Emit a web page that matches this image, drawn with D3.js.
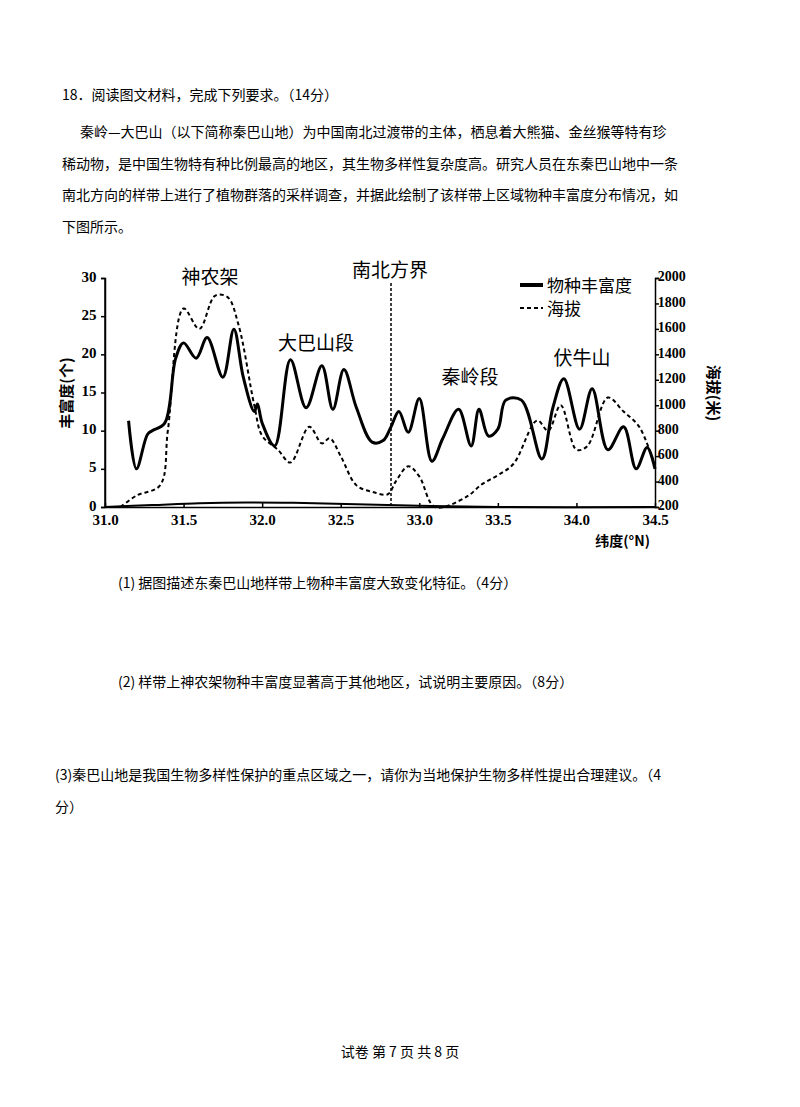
<!DOCTYPE html><html><head><meta charset="utf-8"><script src="https://cdn.jsdelivr.net/npm/d3@7"></script>
<style>body{margin:0;background:#fff;font-family:"Noto Sans CJK SC","Noto Sans",sans-serif;}</style></head><body><svg id="c" width="800" height="1107"></svg>
<script>
const richLat=[31.15,31.2,31.27,31.3,31.38,31.45,31.5,31.58,31.65,31.75,31.82,31.88,31.95,31.97,32.0,32.08,32.18,32.28,32.38,32.45,32.52,32.6,32.7,32.77,32.82,32.87,32.93,33.0,33.08,33.15,33.25,33.33,33.38,33.44,33.5,33.55,33.65,33.78,33.85,33.92,34.02,34.1,34.2,34.3,34.38,34.45,34.5];
const richVal=[11.3,5,9.5,10,11,19.5,21.5,19.5,22.2,17,23.3,17,12.5,13.5,11,8,19.3,13,18.5,12.8,18,13,8.5,8.7,10.5,12.5,9.8,14.2,6,9,12.8,8,12.8,9.3,10.2,14,14,6.3,13,16.8,10.2,15.5,7.5,10.5,5,7.8,5];
const elevLat=[31.1,31.2,31.35,31.4,31.5,31.6,31.7,31.78,31.85,31.95,32.0,32.1,32.18,32.3,32.38,32.43,32.5,32.6,32.7,32.8,32.85,32.93,33.0,33.1,33.3,33.4,33.5,33.6,33.75,33.82,33.9,34.0,34.07,34.2,34.3,34.4,34.5];
const elevVal=[200,290,370,800,1760,1600,1860,1850,1630,1000,760,650,550,830,700,740,600,370,320,300,400,520,440,200,280,380,450,540,880,800,1000,650,680,1060,950,830,520];
const baseLat=[31.0,31.3,31.6,31.9,32.2,32.6,33.0,33.5,34.5];
const baseVal=[0,0.25,0.5,0.6,0.55,0.35,0.15,0,0];
const xTicks=[31.0,31.5,32.0,32.5,33.0,33.5,34.0,34.5];
const yTicks=[0,5,10,15,20,25,30];
const y2Ticks=[200,400,600,800,1000,1200,1400,1600,1800,2000];

const svg=d3.select("#c");
const T=(x,y,s,size,opt={})=>svg.append("text").attr("x",x).attr("y",y).attr("font-size",size).attr("font-family",opt.f||'"Noto Sans CJK SC"').attr("font-weight",opt.w||"normal").attr("text-anchor",opt.a||"start").text(s);
T(62,100,"18．阅读图文材料，完成下列要求。（14分）",14);
T(80,137,"秦岭—大巴山（以下简称秦巴山地）为中国南北过渡带的主体，栖息着大熊猫、金丝猴等特有珍",14);
T(62,169,"稀动物，是中国生物特有种比例最高的地区，其生物多样性复杂度高。研究人员在东秦巴山地中一条",14);
T(62,200,"南北方向的样带上进行了植物群落的采样调查，并据此绘制了该样带上区域物种丰富度分布情况，如",14);
T(62,232,"下图所示。",14);
T(118,588,"(1)    据图描述东秦巴山地样带上物种丰富度大致变化特征。（4分）",14);
T(118,687,"(2)    样带上神农架物种丰富度显著高于其他地区，试说明主要原因。（8分）",14);
T(55,780,"(3)秦巴山地是我国生物多样性保护的重点区域之一，请你为当地保护生物多样性提出合理建议。（4",14);
T(55,812,"分）",14);
T(400,1057,"试卷 第 7 页 共 8 页",14,{a:"middle"});

const x=d3.scaleLinear().domain([31,34.5]).range([105,655]);
const y=d3.scaleLinear().domain([0,30]).range([507,278]);
const y2=d3.scaleLinear().domain([200,2000]).range([507,278]);
const ser='"Liberation Serif"';
const gx=svg.append("g").attr("transform","translate(0,507)").call(d3.axisBottom(x).tickValues(xTicks).tickFormat(d3.format(".1f")).tickSizeInner(-4).tickSizeOuter(0));
const gy=svg.append("g").attr("transform","translate(105,0)").call(d3.axisLeft(y).tickValues(yTicks).tickSize(4));
const gy2=svg.append("g").attr("transform","translate(655,0)").call(d3.axisRight(y2).tickValues(y2Ticks).tickFormat(d3.format("d")).tickSize(4));
[gx,gy,gy2].forEach(g=>{g.selectAll("path,line").attr("stroke","#000").attr("stroke-width",1.5);g.selectAll("text").attr("font-family",ser).attr("font-weight","bold").attr("font-size",15).attr("fill","#000");});
gx.selectAll("text").attr("dy","1em");
gy.selectAll("text").attr("dx","-0.1em").attr("dy","0.2em");
gy2.selectAll("text").attr("font-size",14).attr("dx","-0.3em").attr("dy","0.2em");
svg.append("line").attr("x1",105).attr("x2",105).attr("y1",507).attr("y2",278).attr("stroke","#000").attr("stroke-width",1.5);

const line=(yy)=>d3.line().x(d=>x(d[0])).y(d=>yy(d[1])).curve(d3.curveCatmullRom.alpha(0.5));
svg.append("path").datum(d3.zip(elevLat,elevVal)).attr("d",line(y2)).attr("fill","none").attr("stroke","#000").attr("stroke-width",2).attr("stroke-dasharray","4,3");
svg.append("path").datum(d3.zip(richLat,richVal)).attr("d",line(y)).attr("fill","none").attr("stroke","#000").attr("stroke-width",3);
svg.append("path").datum(d3.zip(baseLat,baseVal)).attr("d",line(y)).attr("fill","none").attr("stroke","#000").attr("stroke-width",2);
svg.append("line").attr("x1",x(32.82)).attr("x2",x(32.82)).attr("y1",283).attr("y2",507).attr("stroke","#000").attr("stroke-width",1.5).attr("stroke-dasharray","3,2");

T(390,277,"南北方界",19,{a:"middle"});
T(210,284,"神农架",19,{a:"middle"});
T(316,350,"大巴山段",19,{a:"middle"});
T(470,384,"秦岭段",19,{a:"middle"});
T(582,365,"伏牛山",19,{a:"middle"});
svg.append("line").attr("x1",520).attr("x2",543).attr("y1",285).attr("y2",285).attr("stroke","#000").attr("stroke-width",4);
svg.append("line").attr("x1",520).attr("x2",543).attr("y1",308).attr("y2",308).attr("stroke","#000").attr("stroke-width",2).attr("stroke-dasharray","4,3");
T(547,292,"物种丰富度",17);
T(547,315,"海拔",17);
T(72,393,"丰富度(个)",15,{w:"bold"}).attr("transform","rotate(-90,72,393)").attr("text-anchor","middle");
T(708,393,"海拔(米)",15,{w:"bold"}).attr("transform","rotate(90,708,393)").attr("text-anchor","middle");
T(650,546,"纬度(°N)",14,{a:"end",w:"bold"});
</script></body></html>
